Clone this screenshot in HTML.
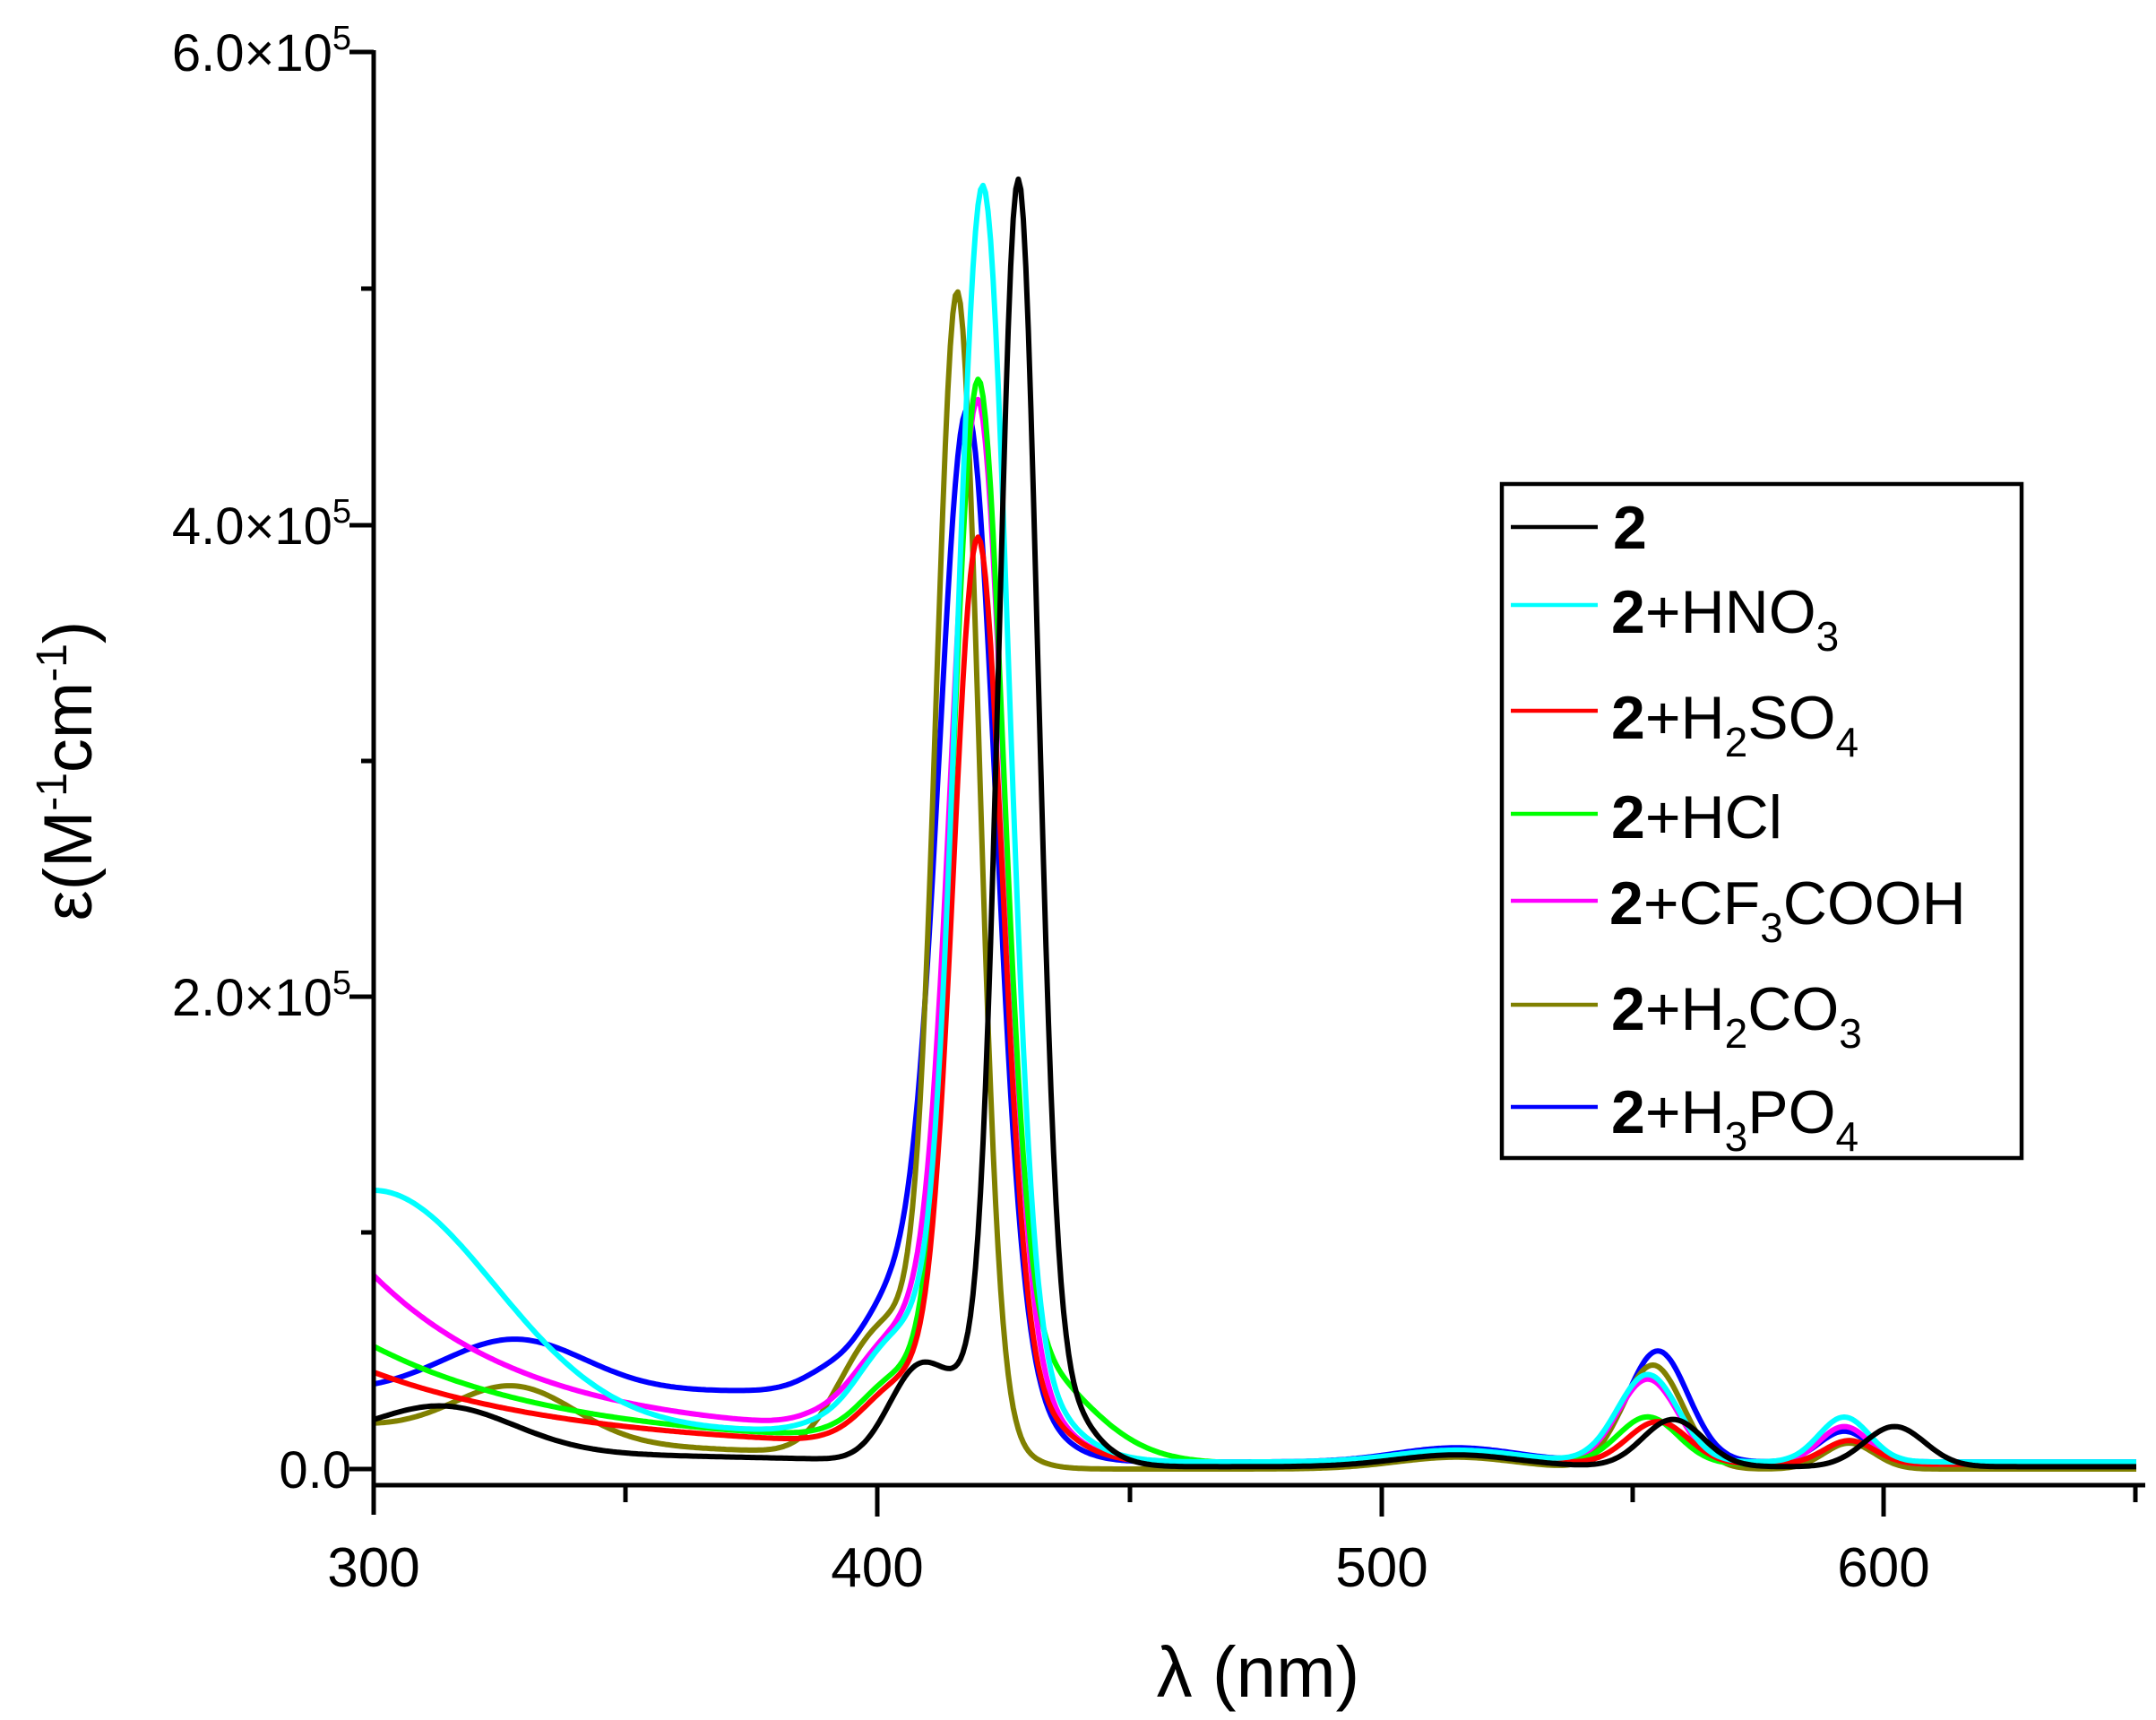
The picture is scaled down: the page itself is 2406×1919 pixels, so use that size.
<!DOCTYPE html>
<html><head><meta charset="utf-8"><style>
html,body{margin:0;padding:0;background:#fff;}
svg{display:block;font-family:"Liberation Sans",Arial,sans-serif;}
</style></head><body>
<svg id="s" width="2406" height="1919" viewBox="0 0 2406 1919" xmlns="http://www.w3.org/2000/svg">
<g id="curves" fill="none" stroke-width="6" stroke-linejoin="round"></g>
<g stroke="#000" stroke-width="5" fill="none">
<line x1="417" y1="56" x2="417" y2="1690"/>
<line x1="415" y1="1657" x2="2394" y2="1657"/>
<line x1="390" y1="1639" x2="417" y2="1639"/>
<line x1="390" y1="1112" x2="417" y2="1112"/>
<line x1="390" y1="586" x2="417" y2="586"/>
<line x1="390" y1="58" x2="417" y2="58"/>
<line x1="403" y1="1375" x2="417" y2="1375"/>
<line x1="403" y1="849" x2="417" y2="849"/>
<line x1="403" y1="322" x2="417" y2="322"/>
<line x1="979" y1="1657" x2="979" y2="1692"/>
<line x1="1542" y1="1657" x2="1542" y2="1692"/>
<line x1="2102" y1="1657" x2="2102" y2="1692"/>
<line x1="698" y1="1657" x2="698" y2="1676"/>
<line x1="1261" y1="1657" x2="1261" y2="1676"/>
<line x1="1822" y1="1657" x2="1822" y2="1676"/>
<line x1="2383" y1="1657" x2="2383" y2="1676"/>
</g>
<g font-size="58" text-anchor="end" fill="#000">
<text x="392" y="1660">0.0</text>
<text x="392" y="1133">2.0×10<tspan font-size="38" dy="-24">5</tspan></text>
<text x="392" y="607">4.0×10<tspan font-size="38" dy="-24">5</tspan></text>
<text x="392" y="79">6.0×10<tspan font-size="38" dy="-24">5</tspan></text>
</g>
<g font-size="62" text-anchor="middle">
<text x="417" y="1770">300</text>
<text x="979" y="1770">400</text>
<text x="1542" y="1770">500</text>
<text x="2102" y="1770">600</text>
</g>
<text x="1404" y="1893" font-size="80" text-anchor="middle">λ (nm)</text>
<text transform="translate(102,860) rotate(-90)" font-size="76" text-anchor="middle">ε(M<tspan font-size="48" dy="-28">-1</tspan><tspan dy="28">cm</tspan><tspan font-size="48" dy="-28">-1</tspan><tspan dy="28">)</tspan></text>
<rect x="1676" y="540" width="580" height="752" fill="#fff" stroke="#000" stroke-width="4.5"/>
<g stroke-width="4.5">
<line x1="1686" y1="588" x2="1783" y2="588" stroke="#000"/>
<line x1="1686" y1="675" x2="1783" y2="675" stroke="#00ffff"/>
<line x1="1686" y1="793" x2="1783" y2="793" stroke="#ff0000"/>
<line x1="1686" y1="908" x2="1783" y2="908" stroke="#00ff00"/>
<line x1="1686" y1="1005" x2="1783" y2="1005" stroke="#ff00ff"/>
<line x1="1686" y1="1121" x2="1783" y2="1121" stroke="#808000"/>
<line x1="1686" y1="1235" x2="1783" y2="1235" stroke="#0000ff"/>
</g>
<g font-size="68">
<text x="1800" y="612"><tspan font-weight="bold">2</tspan></text>
<text x="1798" y="706"><tspan font-weight="bold">2</tspan>+HNO<tspan font-size="46" dy="20">3</tspan></text>
<text x="1798" y="824"><tspan font-weight="bold">2</tspan>+H<tspan font-size="46" dy="20">2</tspan><tspan dy="-20">SO</tspan><tspan font-size="46" dy="20">4</tspan></text>
<text x="1798" y="935"><tspan font-weight="bold">2</tspan>+HCl</text>
<text x="1796" y="1031"><tspan font-weight="bold">2</tspan>+CF<tspan font-size="46" dy="20">3</tspan><tspan dy="-20">COOH</tspan></text>
<text x="1798" y="1149"><tspan font-weight="bold">2</tspan>+H<tspan font-size="46" dy="20">2</tspan><tspan dy="-20">CO</tspan><tspan font-size="46" dy="20">3</tspan></text>
<text x="1798" y="1264"><tspan font-weight="bold">2</tspan>+H<tspan font-size="46" dy="20">3</tspan><tspan dy="-20">PO</tspan><tspan font-size="46" dy="20">4</tspan></text>
</g>
</svg>
<script>
function g(x,c,h,s){return h*Math.exp(-0.5*((x-c)/s)*((x-c)/s));}
function sg(x,c,w){return 1/(1+Math.exp((x-c)/w));}
function X(l){return 417+(l-300)*5.62;}
function Y(v){return 1639-v*263.5;}
var S=[
 {c:"#0000ff",f:function(l){return g(l,418,3.7,5.5)+g(l,415,0.75,11)+g(l,400,0.35,8)+0.3*sg(l,392,3)+g(l,328,0.22,14)+g(l,555,0.47,6)+g(l,592,0.13,5)+g(l,515,0.06,12)+0.03;}},
 {c:"#808000",f:function(l){return g(l,416,4.5,4.2)+g(l,411,0.55,9)+g(l,398,0.35,7)+g(l,328,0.22,12)+0.18*Math.exp(-(l-300)/90)*sg(l,395,3)+g(l,554,0.44,6)+g(l,593,0.11,5)+g(l,515,0.05,12);}},
 {c:"#ff00ff",f:function(l){return g(l,420,3.9,5.2)+g(l,417,0.6,12)+g(l,400,0.25,8)+0.68*Math.exp(-(l-300)/32)+0.12*sg(l,390,3)+g(l,553,0.36,6)+g(l,592,0.16,5)+g(l,515,0.05,12)+0.02;}},
 {c:"#00ff00",f:function(l){return g(l,420,4.1,5.0)+g(l,425,0.5,14)+g(l,402,0.2,7)+0.42*Math.exp(-(l-300)/38)+0.08*sg(l,392,3)+g(l,553,0.2,6)+g(l,593,0.1,5)+g(l,515,0.04,12)+0.02;}},
 {c:"#ff0000",f:function(l){return g(l,420,3.45,4.8)+g(l,420,0.45,11)+g(l,402,0.18,7)+0.33*Math.exp(-(l-300)/42)+0.06*sg(l,392,3)+g(l,555,0.18,6)+g(l,593,0.1,5)+g(l,515,0.04,12)+0.02;}},
 {c:"#00ffff",f:function(l){return g(l,421,4.8,5.0)+g(l,419,0.6,12)+g(l,401,0.3,8)+1.02*Math.exp(-Math.pow((l-300)/34,2))+0.13*sg(l,390,3)+g(l,553,0.37,6)+g(l,592,0.19,5)+g(l,515,0.05,12)+0.03;}},
 {c:"#000000",f:function(l){return g(l,428,4.85,3.8)+g(l,428,0.6,9)+g(l,408,0.38,6)+g(l,314,0.18,14)+0.09*Math.exp(-(l-300)/90)*sg(l,400,4)+g(l,558,0.2,6)+g(l,602,0.17,6)+g(l,515,0.05,12)+0.01;}}
];
var G=document.getElementById("curves"),h="";
S.forEach(function(s){var d="";for(var l=300;l<=650;l+=0.5){d+=(l==300?"M":"L")+X(l).toFixed(1)+","+Y(s.f(l)).toFixed(1);}h+='<path stroke="'+s.c+'" d="'+d+'"/>';});
G.innerHTML=h;
</script>
</body></html>
